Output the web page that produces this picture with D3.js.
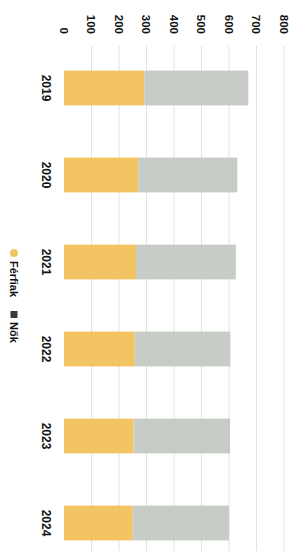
<!DOCTYPE html>
<html>
<head>
<meta charset="utf-8">
<script src="https://cdn.jsdelivr.net/npm/d3@7"></script>
<style>
  body { margin: 0; background: #fff; }
  svg { display: block; }
  text { font-family: "Liberation Sans", Arial, sans-serif; font-weight: bold; fill: #111; }
</style>
</head>
<body>
<svg width="295" height="551"></svg>
<script>
const years = ["2019", "2020", "2021", "2022", "2023", "2024"];
const ferfiak = [292, 270, 262, 257, 252, 250];
const nok = [378, 360, 363, 348, 352, 350];
const ticks = [0, 100, 200, 300, 400, 500, 600, 700, 800];
const seriesNames = ["Férfiak", "Nők"];
const colors = ["#f3c462", "#c8ccc7"];

const svg = d3.select("svg");
// chart drawn upright (551 wide x 295 tall) then turned clockwise
const g = svg.append("g").attr("transform", "translate(295,0) rotate(90)");

const x = d3.scaleBand().domain(years).range([44.5, 566.5]).paddingInner(0.6).paddingOuter(0.3);
const y = d3.scaleLinear().domain([0, 800]).range([231, 11]);

// gridlines
g.append("g").selectAll("line").data(ticks.slice(1)).join("line")
  .attr("x1", 46).attr("x2", 551)
  .attr("y1", d => y(d)).attr("y2", d => y(d))
  .attr("stroke", "#e2e2e2").attr("stroke-width", 1);

// tick labels
g.append("g").selectAll("text").data(ticks).join("text")
  .attr("x", 34).attr("y", d => y(d)).attr("dy", "0.35em")
  .attr("text-anchor", "end").style("font-size", "11.5px")
  .text(d => d);

// stacked bars
const rows = years.map((yr, i) => ({ year: yr, "Férfiak": ferfiak[i], "Nők": nok[i] }));
const stack = d3.stack().keys(seriesNames)(rows);

g.append("g").selectAll("g").data(stack).join("g")
  .attr("fill", (d, i) => colors[i])
  .selectAll("rect").data(d => d).join("rect")
  .attr("x", d => x(d.data.year))
  .attr("width", x.bandwidth())
  .attr("y", d => y(d[1]))
  .attr("height", d => y(d[0]) - y(d[1]));

// category labels
g.append("g").selectAll("text").data(years).join("text")
  .attr("x", d => x(d) + x.bandwidth() / 2)
  .attr("y", 249).attr("dy", "0.35em")
  .attr("text-anchor", "middle").style("font-size", "12px")
  .text(d => d);

// legend
const lg = g.append("g").attr("transform", "translate(250,281)");
lg.append("circle").attr("cx", 3).attr("cy", 0).attr("r", 4).attr("fill", colors[0]);
lg.append("text").attr("x", 11).attr("dy", "0.35em").style("font-size", "11px").text(seriesNames[0]);
lg.append("rect").attr("x", 61).attr("y", -3.5).attr("width", 7).attr("height", 7).attr("fill", "#3b3b3b");
lg.append("text").attr("x", 72).attr("dy", "0.35em").style("font-size", "11px").text(seriesNames[1]);
</script>
</body>
</html>
